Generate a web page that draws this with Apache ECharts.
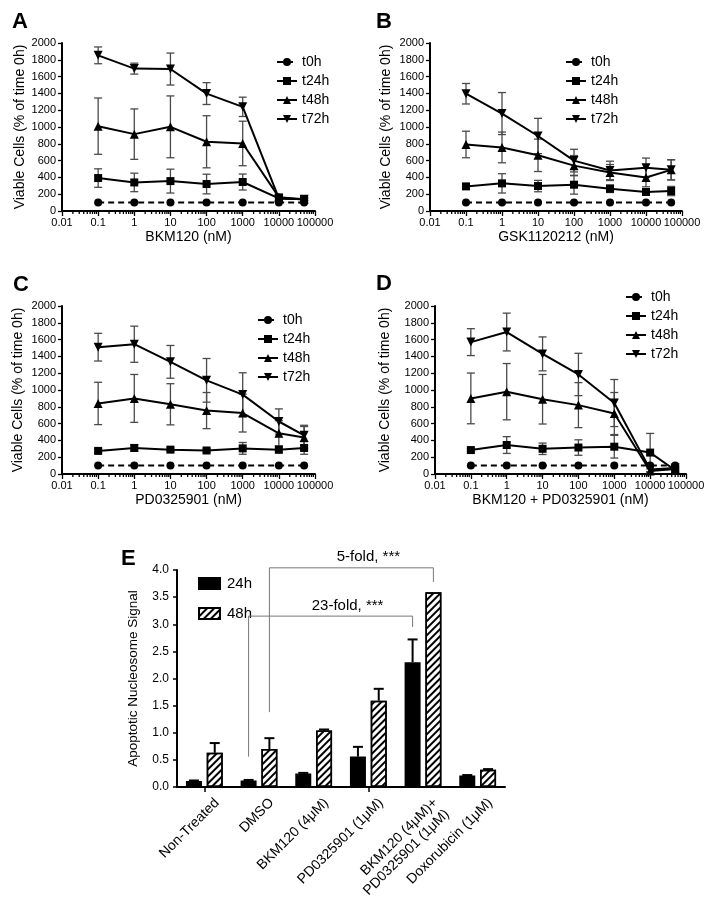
<!DOCTYPE html>
<html><head><meta charset="utf-8">
<script src="https://cdn.jsdelivr.net/npm/echarts@6/dist/echarts.min.js"></script>
<style>html,body{margin:0;padding:0;background:#fff}#c{width:712px;height:903px}</style>
</head><body><div id="c"></div>
<script>
// ================= DATA =================
const concentrationsNM = [0.1, 1, 10, 100, 1000, 10000, 50000];
const logTickLabels = ['0.01', '0.1', '1', '10', '100', '1000', '10000', '100000'];
const timePoints = ['t0h', 't24h', 't48h', 't72h'];
const panelLetters = ['A', 'B', 'C', 'D', 'E'];
const drugNames = ['BKM120 (nM)', 'GSK1120212 (nM)', 'PD0325901 (nM)', 'BKM120 + PD0325901 (nM)'];

// Panel A – BKM120
const A_t0h = [100, 100, 100, 100, 100, 100, 100];
const A_t24h = [392, 340, 356, 321, 345, 150, 139];
const A_t24h_sd = [110, 110, 142, 117, 95, 40, 15];
const A_t48h = [1010, 915, 1002, 824, 804, 165, 140];
const A_t48h_sd = [335, 300, 368, 310, 265, 40, 15];
const A_t72h = [1853, 1695, 1690, 1398, 1240, 150, 140];
const A_t72h_sd = [100, 65, 190, 130, 115, 25, 10];

// Panel B – GSK1120212
const B_t0h = [100, 100, 100, 100, 100, 100, 100];
const B_t24h = [293, 329, 297, 313, 265, 226, 238];
const B_t24h_sd = [20, 115, 68, 112, 45, 25, 55];
const B_t48h = [792, 757, 663, 540, 458, 398, 490];
const B_t48h_sd = [158, 183, 193, 120, 95, 110, 120];
const B_t72h = [1396, 1160, 893, 600, 483, 515, 490];
const B_t72h_sd = [122, 250, 210, 135, 110, 115, 120];

// Panel C – PD0325901
const C_t0h = [100, 100, 100, 100, 100, 100, 100];
const C_t24h = [275, 310, 290, 280, 305, 290, 310];
const C_t24h_sd = [20, 40, 20, 20, 70, 40, 75];
const C_t48h = [840, 900, 830, 755, 725, 485, 435];
const C_t48h_sd = [252, 285, 245, 215, 225, 150, 130];
const C_t72h = [1510, 1545, 1335, 1115, 945, 625, 460];
const C_t72h_sd = [165, 215, 195, 260, 260, 150, 120];

// Panel D – BKM120 + PD0325901
const D_t0h = [100, 100, 100, 100, 100, 100, 100];
const D_t24h = [285, 345, 300, 315, 325, 255, 45];
const D_t24h_sd = [20, 100, 68, 92, 135, 228, 20];
const D_t48h = [900, 980, 890, 820, 720, 35, 60];
const D_t48h_sd = [302, 335, 295, 268, 250, 25, 20];
const D_t72h = [1570, 1690, 1430, 1185, 845, 55, 70];
const D_t72h_sd = [160, 225, 202, 252, 280, 30, 20];

// Panel E – apoptotic nucleosome signal
const treatments = ['Non-Treated', 'DMSO', 'BKM120 (4\u03bcM)', 'PD0325901 (1\u03bcM)', 'BKM120 (4\u03bcM)+\nPD0325901 (1\u03bcM)', 'Doxorubicin (1\u03bcM)'];
const barSeriesNames = ['24h', '48h'];
const signal24h = [0.11, 0.12, 0.25, 0.56, 2.30, 0.21];
const signal24h_sd = [0.01, 0.01, 0.01, 0.18, 0.42, 0.01];
const signal48h = [0.63, 0.70, 1.04, 1.59, 3.59, 0.32];
const signal48h_sd = [0.18, 0.20, 0.02, 0.22, 0, 0.01];

// significance brackets
const bracketLabels = ['23-fold, ***', '5-fold, ***'];
const bracketFromTreatment = ['DMSO', 'DMSO'];
const bracketToTreatment = ['BKM120 (4\u03bcM)+\nPD0325901 (1\u03bcM)', 'BKM120 (4\u03bcM)+\nPD0325901 (1\u03bcM)'];
const bracketSeries = [0, 1];           // 0 = 24h bar, 1 = 48h bar
const bracketFromBottom = [0.56, 1.38];
const bracketTop = [3.15, 4.04];
const bracketToBottom = [2.95, 3.78];

// ================= STYLE / LAYOUT =================
const FONT = '"Liberation Sans", Arial, Helvetica, sans-serif';
const ERR_COLOR = '#4a4a4a';
const BAR_W = 16, BAR_GAP = 0.3;
const BAR_OFF = (BAR_W + BAR_W * BAR_GAP) / 2;

const linePanels = [
  { grid: { left: 62, top: 43, width: 253, height: 168 }, legend: { left: 271, top: 50 }, nameGapY: 35,
    vals: [A_t0h, A_t24h, A_t48h, A_t72h], sds: [null, A_t24h_sd, A_t48h_sd, A_t72h_sd] },
  { grid: { left: 430, top: 43, width: 252, height: 168 }, legend: { left: 560, top: 50 }, nameGapY: 37,
    vals: [B_t0h, B_t24h, B_t48h, B_t72h], sds: [null, B_t24h_sd, B_t48h_sd, B_t72h_sd] },
  { grid: { left: 62, top: 306, width: 253, height: 168 }, legend: { left: 252, top: 308 }, nameGapY: 37,
    vals: [C_t0h, C_t24h, C_t48h, C_t72h], sds: [null, C_t24h_sd, C_t48h_sd, C_t72h_sd] },
  { grid: { left: 435, top: 306, width: 251, height: 168 }, legend: { left: 620, top: 285 }, nameGapY: 43,
    vals: [D_t0h, D_t24h, D_t48h, D_t72h], sds: [null, D_t24h_sd, D_t48h_sd, D_t72h_sd] }
];
const symbolStyles = [
  { symbol: 'circle', size: 8, rotate: 0, dash: [6, 4] },
  { symbol: 'rect', size: 8, rotate: 0, dash: 'solid' },
  { symbol: 'triangle', size: 9, rotate: 0, dash: 'solid' },
  { symbol: 'triangle', size: 9, rotate: 180, dash: 'solid' }
];
const letterPos = [[7, 6], [371, 6], [8, 269], [371, 268], [116, 543]];

// minor tick decoration for log axes (2..9 in each decade)
const minorTicks = [];
[0.01, 0.1, 1, 10, 100, 1000, 10000].forEach(d => [2,3,4,5,6,7,8,9].forEach(m => minorTicks.push([+(d * m).toPrecision(3), 0])));

function lineErrRender(params, api) {
  const x = api.value(0), y = api.value(1), e = api.value(2);
  if (!(e > 0)) return null;
  const hi = api.coord([x, y + e]);
  const lo = api.coord([x, Math.max(0, y - e)]);
  const w = 4;
  const style = { stroke: ERR_COLOR, lineWidth: 1.3 };
  return { type: 'group', children: [
    { type: 'line', shape: { x1: hi[0], y1: hi[1], x2: lo[0], y2: lo[1] }, style },
    { type: 'line', shape: { x1: hi[0] - w, y1: hi[1], x2: hi[0] + w, y2: hi[1] }, style },
    { type: 'line', shape: { x1: lo[0] - w, y1: lo[1], x2: lo[0] + w, y2: lo[1] }, style }
  ] };
}
function minorTickRender(params, api) {
  const p = api.coord([api.value(0), 0]);
  return { type: 'line', shape: { x1: p[0], y1: p[1], x2: p[0], y2: p[1] + 3 }, style: { stroke: '#000', lineWidth: 1.3 } };
}
function barErrRender(offset) {
  return function (params, api) {
    const i = api.value(0), v = api.value(1), e = api.value(2);
    if (!(e > 0)) return null;
    const b = api.coord([i, v]), t = api.coord([i, v + e]);
    const x = b[0] + offset, w = 5;
    const style = { stroke: '#000', lineWidth: 2 };
    return { type: 'group', children: [
      { type: 'line', shape: { x1: x, y1: b[1], x2: x, y2: t[1] }, style },
      { type: 'line', shape: { x1: x - w, y1: t[1], x2: x + w, y2: t[1] }, style }
    ] };
  };
}
function bracketRender(params, api) {
  const li = api.value(0), ri = api.value(1), s = api.value(2);
  const lb = api.value(3), tp = api.value(4), rb = api.value(5);
  const off = s === 0 ? -BAR_OFF : BAR_OFF;
  const pL = api.coord([li, lb]), pT = api.coord([li, tp]), pR = api.coord([ri, rb]);
  const xl = pL[0] + off, xr = pR[0] + off;
  return { type: 'group', children: [
    { type: 'polyline', shape: { points: [[xl, pL[1]], [xl, pT[1]], [xr, pT[1]], [xr, pR[1]]] },
      style: { stroke: '#777', lineWidth: 1, fill: null } },
    { type: 'text', x: (xl + xr) / 2 + 17, y: pT[1] - 3,
      style: { text: bracketLabels[params.dataIndex], fontSize: 15, fontFamily: FONT, fill: '#000', align: 'center', verticalAlign: 'bottom' } }
  ] };
}
function catLabelRender(params, api) {
  const p = api.coord([api.value(0), 0]);
  return { type: 'text', x: p[0] + 7, y: p[1] + 8, rotation: Math.PI / 4,
    style: { text: treatments[params.dataIndex], fontSize: 14, fontFamily: FONT, fill: '#000', align: 'right', verticalAlign: 'top', lineHeight: 16 } };
}

// ================= OPTION =================
const option = { animation: false, backgroundColor: '#fff', textStyle: { fontFamily: FONT, color: '#000' },
  title: [], grid: [], xAxis: [], yAxis: [], legend: [], series: [] };

panelLetters.forEach((L, i) => option.title.push({ text: L, left: letterPos[i][0], top: letterPos[i][1],
  textStyle: { fontSize: 22, fontWeight: 'bold', fontFamily: FONT, color: '#000' } }));

const axisLineStyle = { show: true, lineStyle: { color: '#000', width: 2 } };

linePanels.forEach((p, gi) => {
  option.grid.push(Object.assign({ containLabel: false }, p.grid));
  option.xAxis.push({ type: 'log', logBase: 10, gridIndex: gi, min: 0.01, max: 100000,
    name: drugNames[gi], nameLocation: 'middle', nameGap: 19,
    nameTextStyle: { fontSize: 14, fontFamily: FONT, color: '#000' },
    axisLine: axisLineStyle, axisTick: { show: true, length: 5, lineStyle: { width: 1.3, color: '#000' } },
    axisLabel: { fontSize: 11, margin: 6, color: '#000', fontFamily: FONT,
      formatter: v => logTickLabels[Math.round(Math.log10(v)) + 2] },
    splitLine: { show: false }, minorTick: { show: false } });
  option.yAxis.push({ type: 'value', gridIndex: gi, min: 0, max: 2000, interval: 200,
    name: 'Viable Cells (% of time 0h)', nameLocation: 'middle', nameGap: p.nameGapY, nameRotate: 90,
    nameTextStyle: { fontSize: 14, fontFamily: FONT, color: '#000' },
    axisLine: axisLineStyle, axisTick: { show: true, length: 4, lineStyle: { width: 1.3, color: '#000' } },
    axisLabel: { fontSize: 11, margin: 6, color: '#000', fontFamily: FONT, formatter: v => String(v) },
    splitLine: { show: false } });
  option.legend.push({ data: timePoints, orient: 'vertical', left: p.legend.left, top: p.legend.top,
    itemWidth: 20, itemHeight: 10, itemGap: 5, selectedMode: false,
    textStyle: { fontSize: 14, fontFamily: FONT, color: '#000' } });
  // error bars (under lines)
  timePoints.forEach((tp, si) => {
    if (!p.sds[si]) return;
    option.series.push({ type: 'custom', name: tp + ' error', xAxisIndex: gi, yAxisIndex: gi, z: 1, silent: true, clip: false,
      renderItem: lineErrRender, encode: { x: 0, y: 1 },
      data: concentrationsNM.map((c, j) => [c, p.vals[si][j], p.sds[si][j]]) });
  });
  timePoints.forEach((tp, si) => {
    const s = symbolStyles[si];
    option.series.push({ type: 'line', name: tp, xAxisIndex: gi, yAxisIndex: gi, z: 3,
      symbol: s.symbol, symbolSize: s.size, symbolRotate: s.rotate, showSymbol: true,
      lineStyle: { color: '#000', width: 2, type: s.dash }, itemStyle: { color: '#000' },
      data: concentrationsNM.map((c, j) => [c, p.vals[si][j]]) });
  });
  option.series.push({ type: 'custom', name: 'minor ticks', xAxisIndex: gi, yAxisIndex: gi, z: 2, silent: true, clip: false,
    renderItem: minorTickRender, encode: { x: 0, y: 1 }, data: minorTicks });
});

// Panel E
const eg = 4;
option.grid.push({ left: 177, top: 570, width: 328, height: 217 });
option.xAxis.push({ type: 'category', gridIndex: eg, data: treatments,
  axisLine: axisLineStyle, axisTick: { show: true, alignWithLabel: true, length: 5, lineStyle: { width: 1.5, color: '#000' } },
  axisLabel: { show: false }, splitLine: { show: false } });
option.yAxis.push({ type: 'value', gridIndex: eg, min: 0, max: 4, interval: 0.5,
  name: 'Apoptotic Nucleosome Signal', nameLocation: 'middle', nameGap: 37, nameRotate: 90,
  nameTextStyle: { fontSize: 13.5, fontFamily: FONT, color: '#000' },
  axisLine: axisLineStyle, axisTick: { show: true, length: 4, lineStyle: { width: 1.5, color: '#000' } },
  axisLabel: { fontSize: 12, margin: 8, color: '#000', fontFamily: FONT, formatter: v => v.toFixed(1) },
  splitLine: { show: false } });
option.legend.push({ data: barSeriesNames, orient: 'vertical', left: 193, top: 571, icon: 'rect',
  itemWidth: 21, itemHeight: 11, itemGap: 15, selectedMode: false,
  textStyle: { fontSize: 15, fontFamily: FONT, color: '#000', padding: [0, 0, 0, 2] } });
option.series.push({ type: 'bar', name: barSeriesNames[0], xAxisIndex: eg, yAxisIndex: eg, barWidth: BAR_W, barGap: (BAR_GAP * 100) + '%',
  itemStyle: { color: '#000', borderColor: '#000', borderWidth: 1.5 }, data: signal24h, z: 2 });
option.series.push({ type: 'bar', name: barSeriesNames[1], xAxisIndex: eg, yAxisIndex: eg, barWidth: BAR_W, barGap: (BAR_GAP * 100) + '%',
  itemStyle: { color: '#fff', borderColor: '#000', borderWidth: 1.5,
    decal: { symbol: 'rect', symbolSize: 1, color: '#000', dashArrayX: [1, 0], dashArrayY: [2, 3], rotation: -Math.PI / 4 } },
  data: signal48h, z: 2 });
option.series.push({ type: 'custom', name: '24h error', xAxisIndex: eg, yAxisIndex: eg, z: 4, silent: true, clip: false,
  renderItem: barErrRender(-BAR_OFF), encode: { x: 0, y: 1 }, data: signal24h.map((v, i) => [i, v, signal24h_sd[i]]) });
option.series.push({ type: 'custom', name: '48h error', xAxisIndex: eg, yAxisIndex: eg, z: 4, silent: true, clip: false,
  renderItem: barErrRender(BAR_OFF), encode: { x: 0, y: 1 }, data: signal48h.map((v, i) => [i, v, signal48h_sd[i]]) });
option.series.push({ type: 'custom', name: 'brackets', xAxisIndex: eg, yAxisIndex: eg, z: 5, silent: true, clip: false,
  renderItem: bracketRender, encode: { x: 0, y: 4 },
  data: bracketLabels.map((t, k) => [treatments.indexOf(bracketFromTreatment[k]), treatments.indexOf(bracketToTreatment[k]),
    bracketSeries[k], bracketFromBottom[k], bracketTop[k], bracketToBottom[k]]) });
option.series.push({ type: 'custom', name: 'category labels', xAxisIndex: eg, yAxisIndex: eg, z: 5, silent: true, clip: false,
  renderItem: catLabelRender, encode: { x: 0, y: 1 }, data: treatments.map((t, i) => [i, 0]) });

const chart = echarts.init(document.getElementById('c'), null, { renderer: 'canvas' });
chart.setOption(option);
</script>
</body></html>
